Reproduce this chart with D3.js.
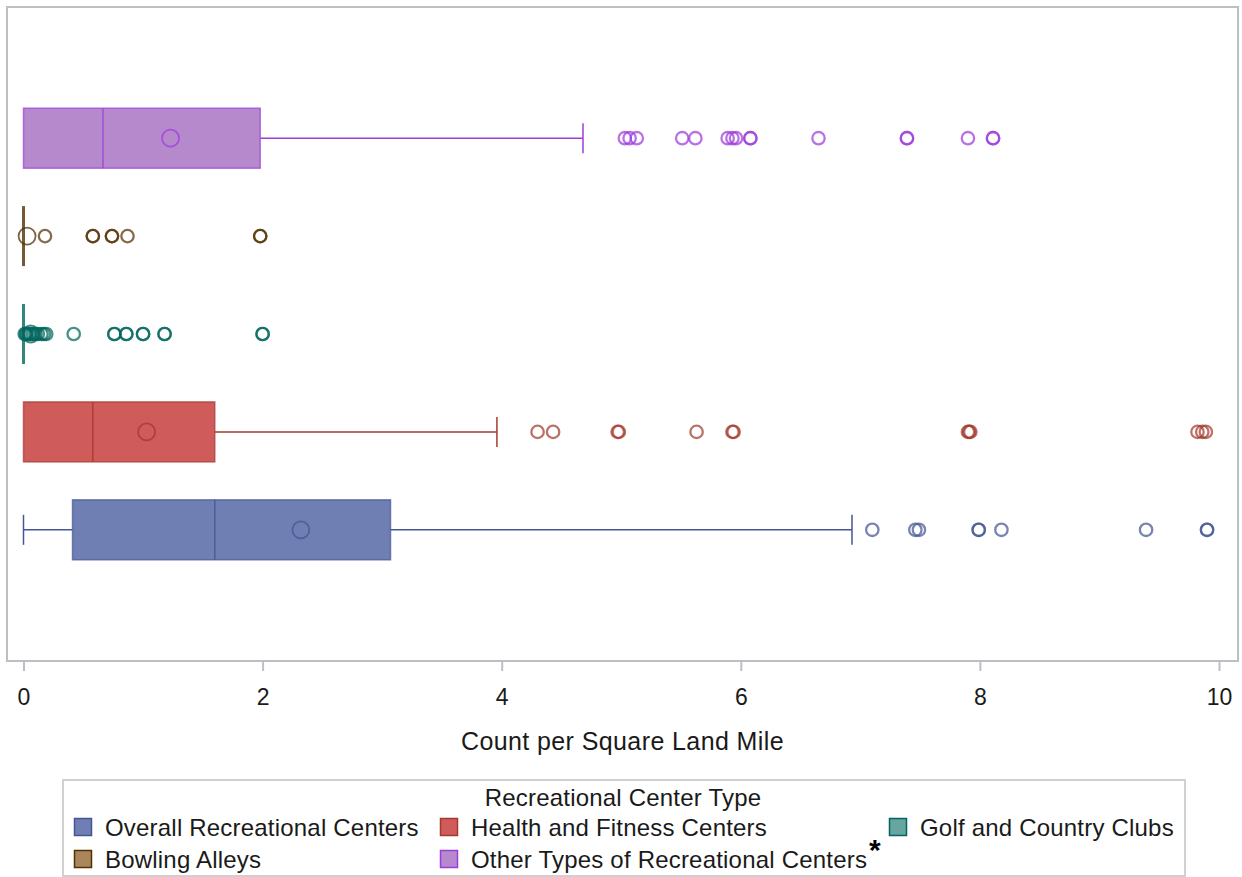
<!DOCTYPE html>
<html>
<head>
<meta charset="utf-8">
<script src="https://cdn.jsdelivr.net/npm/d3@7"></script>
<style>
  body { margin: 0; background: #fff; }
  svg { display: block; font-family: 'Liberation Sans', Arial, sans-serif; }
</style>
</head>
<body>
<div id="graf"></div>
<script>
// I. Datos
categorias = ['Overall Recreational Centers', 'Health and Fitness Centers',
              'Golf and Country Clubs', 'Bowling Alleys',
              'Other Types of Recreational Centers']
minimos  = [0, 0, 0, 0, 0]
q1s      = [0.41, 0, 0, 0, 0]
medianas = [1.60, 0.58, 0, 0, 0.665]
q3s      = [3.07, 1.60, 0, 0, 1.98]
maximos  = [6.93, 3.96, 0, 0, 4.68]
medias   = [2.32, 1.03, 0.06, 0.03, 1.23]

atipicosOverall = [7.10, 7.46, 7.49, 7.99, 7.99, 8.18, 9.39, 9.90, 9.90]
atipicosHealth  = [4.30, 4.43, 4.97, 4.98, 5.63, 5.93, 5.94, 7.90, 7.91, 7.92, 9.82, 9.86, 9.89]
atipicosGolf    = [0.01, 0.02, 0.03, 0.05, 0.06, 0.08, 0.10, 0.12, 0.15, 0.17, 0.19, 0.42, 0.76, 0.76,
                   0.86, 0.86, 1.00, 1.00, 1.18, 1.18, 2.00, 2.00]
atipicosBowling = [0.18, 0.58, 0.58, 0.74, 0.74, 0.87, 1.98, 1.98]
atipicosOther   = [5.03, 5.07, 5.13, 5.51, 5.62, 5.89, 5.93, 5.96, 6.08, 6.08, 6.65,
                   7.39, 7.39, 7.90, 8.11, 8.11]
atipicos = [atipicosOverall, atipicosHealth, atipicosGolf, atipicosBowling, atipicosOther]

ticksX = [0, 2, 4, 6, 8, 10]

rellenos   = ['#6F7EB3', '#D05B5B', '#66A5A0', '#A9865B', '#B689CD']
contrastes = ['#445694', '#A23A2E', '#01665E', '#543005', '#9D3CDB']

// II. Configuración
ancho_total = 1242
alto_total = 877
marco = { left: 7, top: 7, right: 1238, bottom: 661 }

svg = d3.select('#graf').append('svg')
  .attr('width', ancho_total)
  .attr('height', alto_total)

x = d3.scaleLinear().domain([0, 10]).range([23.5, 1219])
y = d3.scalePoint()
  .domain(categorias.slice().reverse())
  .range([marco.top, marco.bottom])
  .padding(1.34)

color = d3.scaleOrdinal().domain(categorias).range(rellenos)
borde = d3.scaleOrdinal().domain(categorias).range(contrastes)

datos = categorias.map((c, i) => ({
  cat: c, min: minimos[i], q1: q1s[i], med: medianas[i], q3: q3s[i],
  max: maximos[i], media: medias[i], out: atipicos[i]
}))

// marco
svg.append('rect')
  .attr('x', marco.left).attr('y', marco.top)
  .attr('width', marco.right - marco.left)
  .attr('height', marco.bottom - marco.top)
  .attr('fill', 'none')
  .attr('stroke', '#bcc0c4')
  .attr('stroke-width', 2)

// eje X
xAxisGroup = svg.append('g')
  .attr('transform', `translate(0, ${marco.bottom})`)
  .call(d3.axisBottom(x).tickValues(ticksX).tickSize(10).tickPadding(18))
xAxisGroup.select('.domain').remove()
xAxisGroup.selectAll('.tick line').attr('stroke', '#bcc0c4').attr('stroke-width', 2)
xAxisGroup.selectAll('.tick text')
  .attr('fill', '#1a1a1a')
  .style('font-size', '23px')
  .style('font-family', "'Liberation Sans', Arial, sans-serif")

svg.append('text')
  .attr('x', (marco.left + marco.right) / 2)
  .attr('y', 750)
  .attr('text-anchor', 'middle')
  .attr('fill', '#1a1a1a')
  .style('font-size', '25px')
  .style('letter-spacing', '0.4px')
  .text('Count per Square Land Mile')

// III. Cajas
altoCaja = 60
tapa = 15

grupos = svg.selectAll('g.caja')
  .data(datos)
  .enter().append('g')
  .attr('class', 'caja')
  .attr('transform', d => `translate(0, ${y(d.cat)})`)

// bigotes
grupos.filter(d => d.q1 > d.min).append('line')
  .attr('x1', d => x(d.min)).attr('x2', d => x(d.q1))
  .attr('stroke', d => borde(d.cat)).attr('stroke-width', 1.5)
grupos.filter(d => d.q1 > d.min).append('line')
  .attr('x1', d => x(d.min)).attr('x2', d => x(d.min))
  .attr('y1', -tapa).attr('y2', tapa)
  .attr('stroke', d => borde(d.cat)).attr('stroke-width', 1.5)
grupos.filter(d => d.max > d.q3).append('line')
  .attr('x1', d => x(d.q3)).attr('x2', d => x(d.max))
  .attr('stroke', d => borde(d.cat)).attr('stroke-width', 1.5)
grupos.filter(d => d.max > d.q3).append('line')
  .attr('x1', d => x(d.max)).attr('x2', d => x(d.max))
  .attr('y1', -tapa).attr('y2', tapa)
  .attr('stroke', d => borde(d.cat)).attr('stroke-width', 1.5)

// caja
grupos.append('rect')
  .attr('x', d => x(d.q1))
  .attr('y', -altoCaja / 2)
  .attr('width', d => x(d.q3) - x(d.q1))
  .attr('height', altoCaja)
  .attr('fill', d => color(d.cat))
  .attr('stroke', d => borde(d.cat))
  .attr('stroke-opacity', 0.7)
  .attr('stroke-width', d => d.q3 > d.q1 ? 1.5 : 3)

// mediana
grupos.append('line')
  .attr('x1', d => x(d.med)).attr('x2', d => x(d.med))
  .attr('y1', -altoCaja / 2).attr('y2', altoCaja / 2)
  .attr('stroke', d => borde(d.cat))
  .attr('stroke-opacity', 0.8)
  .attr('stroke-width', d => d.q3 > d.q1 ? 1.5 : 3)

// media
grupos.append('circle')
  .attr('cx', d => x(d.media))
  .attr('r', 8.5)
  .attr('fill', 'none')
  .attr('stroke', d => borde(d.cat))
  .attr('stroke-opacity', 0.75)
  .attr('stroke-width', 1.8)

// atípicos
grupos.each(function(d) {
  d3.select(this).selectAll('circle.out')
    .data(d.out)
    .enter().append('circle')
    .attr('class', 'out')
    .attr('cx', v => x(v))
    .attr('r', 6.2)
    .attr('fill', 'none')
    .attr('stroke', borde(d.cat))
    .attr('stroke-opacity', 0.72)
    .attr('stroke-width', 2.3)
})

// IV. Leyenda
leyenda = svg.append('g')
leyenda.append('rect')
  .attr('x', 63).attr('y', 780)
  .attr('width', 1122).attr('height', 96)
  .attr('fill', 'none')
  .attr('stroke', '#d0d0d0')
  .attr('stroke-width', 2)
leyenda.append('text')
  .attr('x', 623).attr('y', 806)
  .attr('text-anchor', 'middle')
  .attr('fill', '#1a1a1a')
  .style('font-size', '24px')
  .style('letter-spacing', '0.2px')
  .text('Recreational Center Type')

posLeyenda = [[74, 827], [440, 827], [889, 827], [74, 859], [440, 859]]
items = leyenda.selectAll('g.item')
  .data(categorias)
  .enter().append('g')
  .attr('class', 'item')
  .attr('transform', (d, i) => `translate(${posLeyenda[i][0]}, ${posLeyenda[i][1]})`)
items.append('rect')
  .attr('x', 0.5).attr('y', -8.5)
  .attr('width', 17).attr('height', 17)
  .attr('fill', d => color(d))
  .attr('stroke', d => borde(d))
  .attr('stroke-width', 1.5)
txt = items.append('text')
  .attr('x', 31).attr('y', 9)
  .attr('fill', '#1a1a1a')
  .style('font-size', '24px')
  .style('letter-spacing', '0.2px')
  .text(d => d)
txt.filter(d => d === 'Other Types of Recreational Centers')
  .append('tspan')
  .attr('dx', 2)
  .attr('dy', -8)
  .attr('fill', '#000')
  .style('font-size', '30px')
  .style('font-weight', 'bold')
  .text('*')
</script>
</body>
</html>
